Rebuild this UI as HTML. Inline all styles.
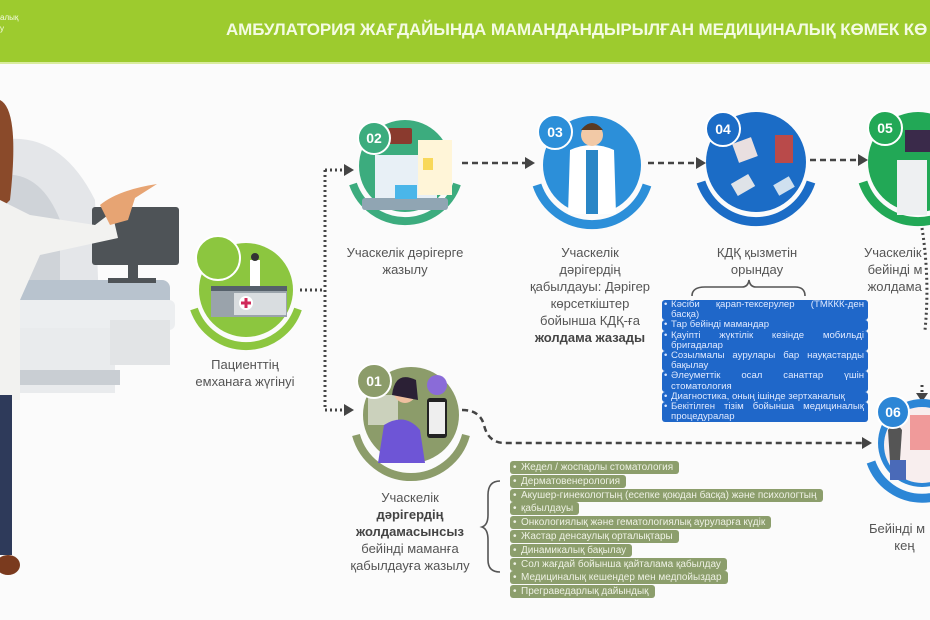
<!DOCTYPE html>
<html><head><meta charset="utf-8">
<style>
*{margin:0;padding:0;box-sizing:border-box}
body{width:930px;height:620px;overflow:hidden;background:#fbfbfb;font-family:"Liberation Sans","DejaVu Sans",sans-serif;position:relative}
#hdr{position:absolute;left:0;top:0;width:930px;height:64px;background:#9dcb2e;border-bottom:2px solid #d9ec9e;overflow:hidden}
#hdr .t{position:absolute;left:226px;top:20px;color:#f4fbe3;font-weight:bold;font-size:17px;white-space:nowrap;letter-spacing:-0.1px}
#hdr .s{position:absolute;left:0;top:12px;color:#f4fbe3;font-size:8px;line-height:11px}
.lbl{position:absolute;color:#555;font-size:13px;line-height:17px;text-align:center;white-space:nowrap}
.lbl b{color:#444}
.bl{position:absolute;left:662px;top:300px;width:206px;font-size:9.6px;line-height:10.2px;color:#dfe9ff;text-align:justify}
.bl div{background:#1f67c9;border-radius:3px;padding:0 4px 0 9px;position:relative}
.bl div:before{content:"•";position:absolute;left:2px;color:#dfe9ff}
.gl{position:absolute;left:510px;top:461px;font-size:10px;line-height:14px;color:#eef1e4}
.gl div{display:block;height:13.8px}
.gl span{background:#8c9e6c;border-radius:3px;padding:0 6px 0 11px;position:relative;display:inline-block;line-height:13px;white-space:nowrap}
.gl span:before{content:"•";position:absolute;left:3px}
</style></head><body>
<div id="hdr"><div class="s">алық<br>у</div><div class="t">АМБУЛАТОРИЯ ЖАҒДАЙЫНДА МАМАНДАНДЫРЫЛҒАН МЕДИЦИНАЛЫҚ КӨМЕК КӨ</div></div>

<svg width="930" height="620" style="position:absolute;left:0;top:0" xmlns="http://www.w3.org/2000/svg">
<path d="M0 140 Q60 130 95 200 L100 330 L0 330 Z" fill="#e4e6e9"/>
<path d="M0 175 Q40 170 60 220 L60 310 L0 310Z" fill="#cfd3d8"/>
<rect x="0" y="280" width="170" height="28" rx="8" fill="#b8c3ce"/>
<rect x="10" y="300" width="165" height="30" rx="6" fill="#eceef0"/>
<rect x="15" y="328" width="100" height="65" fill="#e9ebed"/>
<rect x="110" y="320" width="60" height="45" fill="#e2e4e6"/>
<rect x="15" y="370" width="105" height="15" fill="#c9ced3"/>
<rect x="92" y="207" width="87" height="58" rx="3" fill="#4e5357"/>
<rect x="128" y="265" width="10" height="14" fill="#4e5357"/>
<rect x="108" y="278" width="48" height="5" fill="#4e5357"/>
<path d="M0 100 Q20 110 10 200 L0 210Z" fill="#8a4a2a"/>
<path d="M0 200 L30 215 L95 225 L112 212 L118 238 L40 255 L20 300 L20 400 L0 400Z" fill="#f2f2f0"/>
<rect x="0" y="395" width="12" height="160" fill="#2e3a5a"/>
<ellipse cx="8" cy="565" rx="12" ry="10" fill="#7a3a1e"/>
<path d="M100 205 Q118 190 157 184 L135 198 L128 220 L110 225Z" fill="#e7a473"/>
<g stroke="#444" stroke-width="3" fill="none" stroke-dasharray="2 3">
<path d="M300 290 H325 M325 170 V410 M325 170 H344 M325 410 H344"/>
<path d="M922 228 Q930 280 925 330"/>
<path d="M922 385 V395"/>
</g>
<g stroke="#444" stroke-width="2.5" fill="none" stroke-dasharray="6 4">
<path d="M462 163 H525"/>
<path d="M648 163 H696"/>
<path d="M810 160 H858"/>
<path d="M462 410 Q480 410 484 425 Q488 443 505 443 H862"/>
</g>
<g fill="#444">
<path d="M344 164 L354 170 L344 176Z"/><path d="M344 404 L354 410 L344 416Z"/>
<path d="M525 157 L535 163 L525 169Z"/><path d="M696 157 L706 163 L696 169Z"/>
<path d="M858 154 L868 160 L858 166Z"/><path d="M862 437 L872 443 L862 449Z"/>
<path d="M916 393 L928 393 L922 402Z"/>
</g>
<path d="M692 296 Q692 287 705 287 L742 287 Q748 287 749 280 Q750 287 756 287 L795 287 Q805 287 805 296" stroke="#555" stroke-width="1.6" fill="none"/>
<path d="M500 481 Q488 481 488 495 L488 515 Q488 525 482 527 Q488 529 488 540 L488 560 Q488 572 500 572" stroke="#555" stroke-width="1.6" fill="none"/>

<g>
<path d="M194 309 A55 55 0 0 0 298 309" stroke="#8cc63f" stroke-width="8" fill="none"/>
<circle cx="246" cy="290" r="47" fill="#8cc63f"/>
<circle cx="218" cy="258" r="22" fill="#8cc63f" stroke="#fff" stroke-width="2"/>
<rect x="211" y="289" width="76" height="28" fill="#9aa3ab"/><rect x="211" y="286" width="76" height="5" fill="#55606a"/>
<rect x="234" y="293" width="52" height="22" fill="#d9dde0"/><circle cx="246" cy="303" r="7" fill="#fff"/>
<path d="M246 298 V308 M241 303 H251" stroke="#d02a5a" stroke-width="3"/>
<rect x="250" y="260" width="10" height="26" fill="#fff"/><circle cx="255" cy="257" r="4" fill="#333"/>
</g>
<g>
<path d="M353 184 A55 55 0 0 0 457 184" stroke="#3cac7e" stroke-width="8" fill="none"/>
<circle cx="405" cy="166" r="46" fill="#3cac7e"/>
<rect x="375" y="155" width="62" height="45" fill="#e8f0f6"/><rect x="362" y="198" width="86" height="12" rx="3" fill="#90a5b3"/>
<rect x="395" y="185" width="22" height="14" fill="#4ab6e9"/>
<rect x="418" y="140" width="34" height="55" fill="#fff5d8"/><rect x="423" y="158" width="10" height="12" fill="#f8d85a"/>
<rect x="388" y="128" width="24" height="16" rx="2" fill="#8a3a2e"/>
<circle cx="374" cy="138" r="16" fill="#3cac7e" stroke="#fff" stroke-width="2"/>
<text x="374" y="143" fill="#fff" font-size="14" font-weight="bold" text-anchor="middle">02</text>
</g>
<g>
<path d="M537 185 A58 58 0 0 0 647 185" stroke="#2c8fd9" stroke-width="9" fill="none"/>
<circle cx="592" cy="165" r="49" fill="#2c8fd9"/>
<path d="M568 214 L570 150 Q592 140 614 150 L616 214Z" fill="#fff"/>
<rect x="586" y="150" width="12" height="64" fill="#2a86c6"/>
<circle cx="592" cy="135" r="11" fill="#f2c9a6"/><path d="M581 130 Q592 116 603 130Z" fill="#5a3a22"/>
<circle cx="555" cy="132" r="17" fill="#2c8fd9" stroke="#fff" stroke-width="2"/>
<text x="555" y="137" fill="#fff" font-size="14" font-weight="bold" text-anchor="middle">03</text>
</g>
<g>
<path d="M701 182 A58 58 0 0 0 811 182" stroke="#1b6cc6" stroke-width="9" fill="none"/>
<circle cx="756" cy="162" r="50" fill="#1b6cc6"/>
<rect x="735" y="140" width="20" height="20" fill="#e9dfe0" transform="rotate(-20 745 150)"/>
<rect x="775" y="135" width="18" height="28" fill="#b94a4a"/>
<rect x="733" y="178" width="20" height="14" fill="#dfe3e8" transform="rotate(-30 743 185)"/>
<rect x="775" y="180" width="18" height="12" fill="#cfe0ef" transform="rotate(-30 784 186)"/>
<circle cx="723" cy="129" r="17" fill="#1b6cc6" stroke="#fff" stroke-width="2"/>
<text x="723" y="134" fill="#fff" font-size="14" font-weight="bold" text-anchor="middle">04</text>
</g>
<g>
<path d="M863 182 A58 58 0 0 0 973 182" stroke="#22a856" stroke-width="9" fill="none"/>
<circle cx="918" cy="162" r="50" fill="#22a856"/>
<rect x="905" y="130" width="30" height="22" fill="#3a2a4a"/>
<rect x="897" y="160" width="30" height="55" fill="#eef0f2"/>
<circle cx="885" cy="128" r="17" fill="#22a856" stroke="#fff" stroke-width="2"/>
<text x="885" y="133" fill="#fff" font-size="14" font-weight="bold" text-anchor="middle">05</text>
</g>
<g>
<path d="M356 435 A57 57 0 0 0 466 435" stroke="#8c9c6a" stroke-width="8" fill="none"/>
<circle cx="411" cy="415" r="48" fill="#8c9c6a"/>
<rect x="368" y="395" width="30" height="30" fill="#cbd1bc"/>
<path d="M378 463 L384 425 Q405 412 420 430 L425 463Z" fill="#6e55d6"/>
<circle cx="405" cy="392" r="11" fill="#f0c0a0"/><path d="M392 395 Q395 370 416 380 L418 400Z" fill="#2b2035"/>
<rect x="427" y="398" width="20" height="40" rx="3" fill="#222"/><rect x="429" y="402" width="16" height="32" fill="#eee"/>
<circle cx="437" cy="385" r="10" fill="#8a6bd8"/>
<circle cx="374" cy="381" r="17" fill="#8c9c6a" stroke="#fff" stroke-width="2"/>
<text x="374" y="386" fill="#fff" font-size="14" font-weight="bold" text-anchor="middle">01</text>
</g>
<g>
<path d="M871 462 A54 54 0 0 0 973 462" stroke="#2c86d6" stroke-width="9" fill="none"/>
<circle cx="922" cy="443" r="44" fill="#2c86d6"/>
<circle cx="922" cy="445" r="38" fill="#f8eeee"/>
<rect x="910" y="415" width="30" height="35" fill="#f09a9a"/>
<path d="M888 430 Q895 420 902 430 L900 460 L890 462Z" fill="#555"/>
<rect x="890" y="460" width="16" height="20" fill="#4a6ab8"/>
<circle cx="893" cy="412" r="16" fill="#2c86d6" stroke="#fff" stroke-width="2"/>
<text x="893" y="417" fill="#fff" font-size="14" font-weight="bold" text-anchor="middle">06</text>
</g>
</svg>

<div class="lbl" style="left:190px;top:356px;width:110px">Пациенттің<br>емханаға жүгінуі</div>
<div class="lbl" style="left:335px;top:244px;width:140px">Учаскелік дәрігерге<br>жазылу</div>
<div class="lbl" style="left:520px;top:244px;width:140px">Учаскелік<br>дәрігердің<br>қабылдауы: Дәрігер<br>көрсеткіштер<br>бойынша КДҚ-ға<br><b>жолдама жазады</b></div>
<div class="lbl" style="left:697px;top:244px;width:120px">КДҚ қызметін<br>орындау</div>
<div class="lbl" style="left:864px;top:244px;text-align:left">Учаскелік<br>&nbsp;бейінді м<br>&nbsp;жолдама</div>
<div class="lbl" style="left:340px;top:489px;width:140px">Учаскелік<br><b>дәрігердің<br>жолдамасынсыз</b><br>бейінді маманға<br>қабылдауға жазылу</div>
<div class="lbl" style="left:869px;top:520px;text-align:left">Бейінді м<br>&nbsp;&nbsp;&nbsp;&nbsp;&nbsp;&nbsp;&nbsp;кең</div>

<div class="bl">
<div>Кәсіби қарап-тексерулер (ТМККК-ден басқа)</div>
<div>Тар бейінді мамандар</div>
<div>Қауіпті жүктілік кезінде мобильді бригадалар</div>
<div>Созылмалы аурулары бар науқастарды бақылау</div>
<div>Әлеуметтік осал санаттар үшін стоматология</div>
<div>Диагностика, оның ішінде зертханалық</div>
<div>Бекітілген тізім бойынша медициналық процедуралар</div>
</div>

<div class="gl">
<div><span>Жедел / жоспарлы стоматология</span></div>
<div><span>Дерматовенерология</span></div>
<div><span>Акушер-гинекологтың (есепке қоюдан басқа) және психологтың</span></div>
<div><span>қабылдауы</span></div>
<div><span>Онкологиялық және гематологиялық ауруларға күдік</span></div>
<div><span>Жастар денсаулық орталықтары</span></div>
<div><span>Динамикалық бақылау</span></div>
<div><span>Сол жағдай бойынша қайталама қабылдау</span></div>
<div><span>Медициналық кешендер мен медпойыздар</span></div>
<div><span>Преграведарлық дайындық</span></div>
</div>
</body></html>
